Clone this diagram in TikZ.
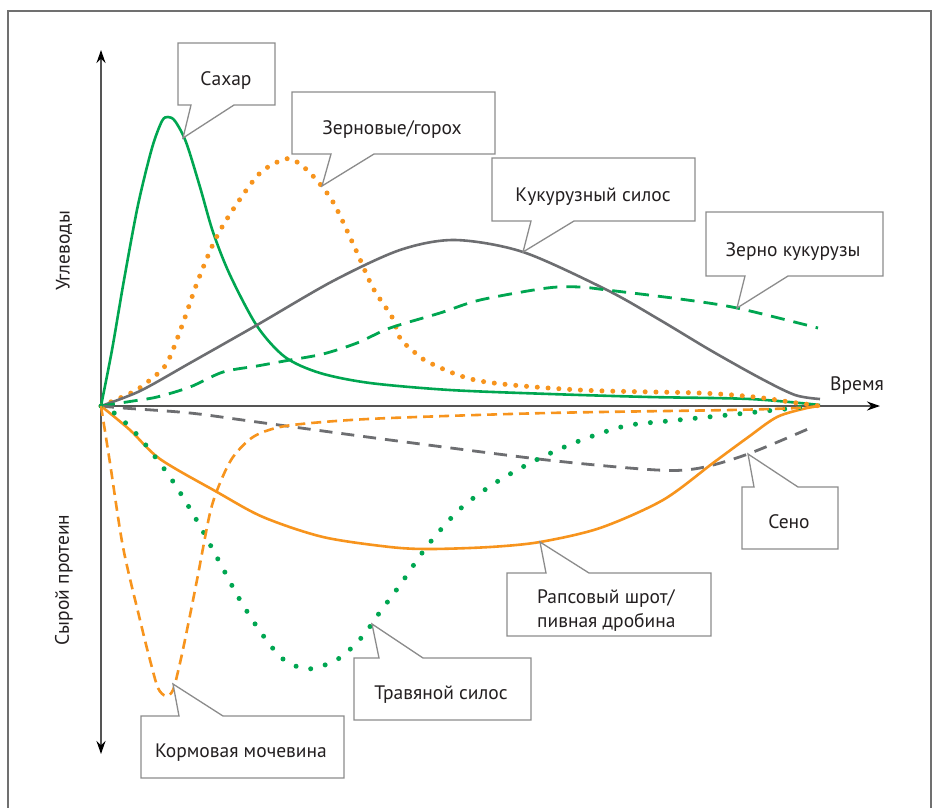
\documentclass[tikz,border=0pt]{standalone}
\usepackage{fontspec}
\setmainfont{PT Sans}
\usetikzlibrary{arrows.meta}
\definecolor{cgreen}{RGB}{0,166,81}
\definecolor{corange}{RGB}{247,148,29}
\definecolor{cgray}{RGB}{109,110,113}
\definecolor{cbox}{RGB}{140,140,140}
\definecolor{caxis}{RGB}{85,85,85}
\definecolor{ctext}{RGB}{35,31,32}
\begin{document}
\begin{tikzpicture}[x=1pt,y=-1pt,
  solidcurve/.style={line width=2.6pt, line join=round},
  dashcurve/.style={line width=2.8pt},
  dotcurve/.style={line width=5pt, line cap=round},
  callout/.style={draw=cbox, fill=white, line width=1.3pt, line join=miter},
  lbl/.style={font=\fontsize{19.5}{24}\selectfont, text=ctext, anchor=base, inner sep=0pt},
  axislbl/.style={font=\fontsize{19.5}{22}\selectfont, text=ctext, inner sep=0pt},
  axisline/.style={draw=caxis, line width=1.8pt}
]
\useasboundingbox (0,0) rectangle (936,807);
\fill[white] (0,0) rectangle (936,807);
% frame
\draw[cbox!80!black, line width=1.2pt] (8,830) -- (8,11) -- (931,11) -- (931,830);

% axes
\coordinate (O) at (101,406);
\coordinate (ytop) at (101,50);
\coordinate (ybot) at (101,754);
\coordinate (xend) at (880,406);
\draw[axisline, {Stealth[length=13pt,width=9pt,black]}-{Stealth[length=13pt,width=9pt,black]}] (ybot) -- (ytop);
\draw[axisline, -{Stealth[length=13pt,width=9pt,black]}] (O) -- (xend);
\node[axislbl, rotate=90] (carb) at (64,251) {Углеводы};
\node[axislbl, rotate=90] (prot) at (64,580) {Сырой протеин};
\node[lbl] (time) at (857,390) {Время};

% Сахар
\draw[cgreen, solidcurve] plot[smooth] coordinates {(101,406) (112,350) (124,280) (138,205) (152,148) (162,121) (168,117) (175,121) (186,142) (200,187) (213,232) (230,275) (257,326) (285,357) (320,373) (370,383) (450,390) (550,394) (650,397) (750,399) (820,405)};
% Зерновые/горох
\draw[corange, dotcurve, dash pattern=on 0pt off 10.8pt] plot[smooth] coordinates {(101,406) (133,392) (150,380) (167,363) (183,323) (197,283) (215,240) (234,208) (260,173) (285,159) (297,162) (313,176) (333,202) (355,248) (373,288) (392,317) (400,338) (412,350) (430,363) (480,381) (580,390) (700,393) (755,397) (790,402) (820,406)};
% Кукурузный силос
\draw[cgray, solidcurve] plot[smooth] coordinates {(101,406) (140,391) (190,363) (257,325) (333,281) (400,250) (455,240) (523,252) (607,290) (660,320) (710,350) (760,378) (795,395) (820,399)};
% Зерно кукурузы
\draw[cgreen, dashcurve, dash pattern=on 14pt off 9pt] plot[smooth] coordinates {(101,406) (133,401) (157,397) (190,387) (223,372) (257,366) (290,360) (323,354) (357,343) (390,328) (440,313) (480,300) (547,288) (580,287) (607,290) (680,299) (737,308) (818,328)};
% Сено
\draw[cgray, dashcurve, dash pattern=on 13pt off 9pt] plot[smooth] coordinates {(101,406) (123,408) (190,413) (257,422) (390,440) (547,460) (657,470) (700,468) (748,454) (808,429)};
% Рапсовый шрот
\draw[corange, solidcurve] plot[smooth] coordinates {(101,406) (130,430) (160,459) (217,492) (263,517) (323,537) (390,547) (430,549) (490,547) (540,542) (600,528) (663,500) (713,463) (747,438) (777,417) (807,408) (820,406)};
% Травяной силос
\draw[cgreen, dotcurve, dash pattern=on 0pt off 15pt] plot[smooth] coordinates {(101,406) (117,415) (140,438) (170,477) (196,519) (220,563) (240,600) (262,634) (283,659) (308,669) (338,659) (362,637) (380,612) (400,585) (428,545) (460,509) (495,483) (536,460) (579,441) (625,426) (668,421) (718,416) (766,411) (813,406)};
% Кормовая мочевина
\draw[corange, dashcurve, line width=2.6pt, dash pattern=on 10pt off 6pt] plot[smooth] coordinates {(101,406) (110,463) (123,547) (140,620) (150,660) (158,688) (166,696) (173,690) (180,663) (187,630) (197,580) (210,513) (220,483) (233,457) (253,437) (280,427) (323,422) (390,418) (547,413) (730,410) (797,408) (820,406)};

% callouts
\draw[callout] (178,43) -- (275,43) -- (275,105) -- (234,105) -- (183,138) -- (191,105) -- (178,105) -- cycle;
\node[lbl] (sahar) at (226,85) {Сахар};

\draw[callout] (292,92) -- (495,92) -- (495,154) -- (374,154) -- (322,186) -- (331,154) -- (292,154) -- cycle;
\node[lbl] (zern) at (392,134) {Зерновые/горох};

\draw[callout] (492,158) -- (695,158) -- (695,221) -- (574,221) -- (523,252) -- (531,221) -- (492,221) -- cycle;
\node[lbl] (kuksil) at (593,201) {Кукурузный силос};

\draw[callout] (706,212) -- (883,212) -- (883,276) -- (788,276) -- (737,308) -- (745,276) -- (706,276) -- cycle;
\node[lbl] (kukzern) at (793,256) {Зерно кукурузы};

\draw[callout] (742,549) -- (742,487) -- (754,487) -- (748,454) -- (798,487) -- (838,487) -- (838,549) -- cycle;
\node[lbl] (seno) at (789,528) {Сено};

\draw[callout] (507,636) -- (507,573) -- (546,573) -- (540,542) -- (589,573) -- (711,573) -- (711,636) -- cycle;
\node[lbl, anchor=base west] (raps1) at (537,603) {Рапсовый шрот/};
\node[lbl, anchor=base west] (raps2) at (537,627) {пивная дробина};

\draw[callout] (354,720) -- (354,658) -- (379,658) -- (372,624) -- (423,658) -- (531,658) -- (531,720) -- cycle;
\node[lbl] (trav) at (441,699) {Травяной силос};

\draw[callout] (141,778) -- (141,716) -- (179,716) -- (173,684) -- (223,716) -- (344,716) -- (344,778) -- cycle;
\node[lbl] (korm) at (241,757) {Кормовая мочевина};
\end{tikzpicture}
\end{document}
